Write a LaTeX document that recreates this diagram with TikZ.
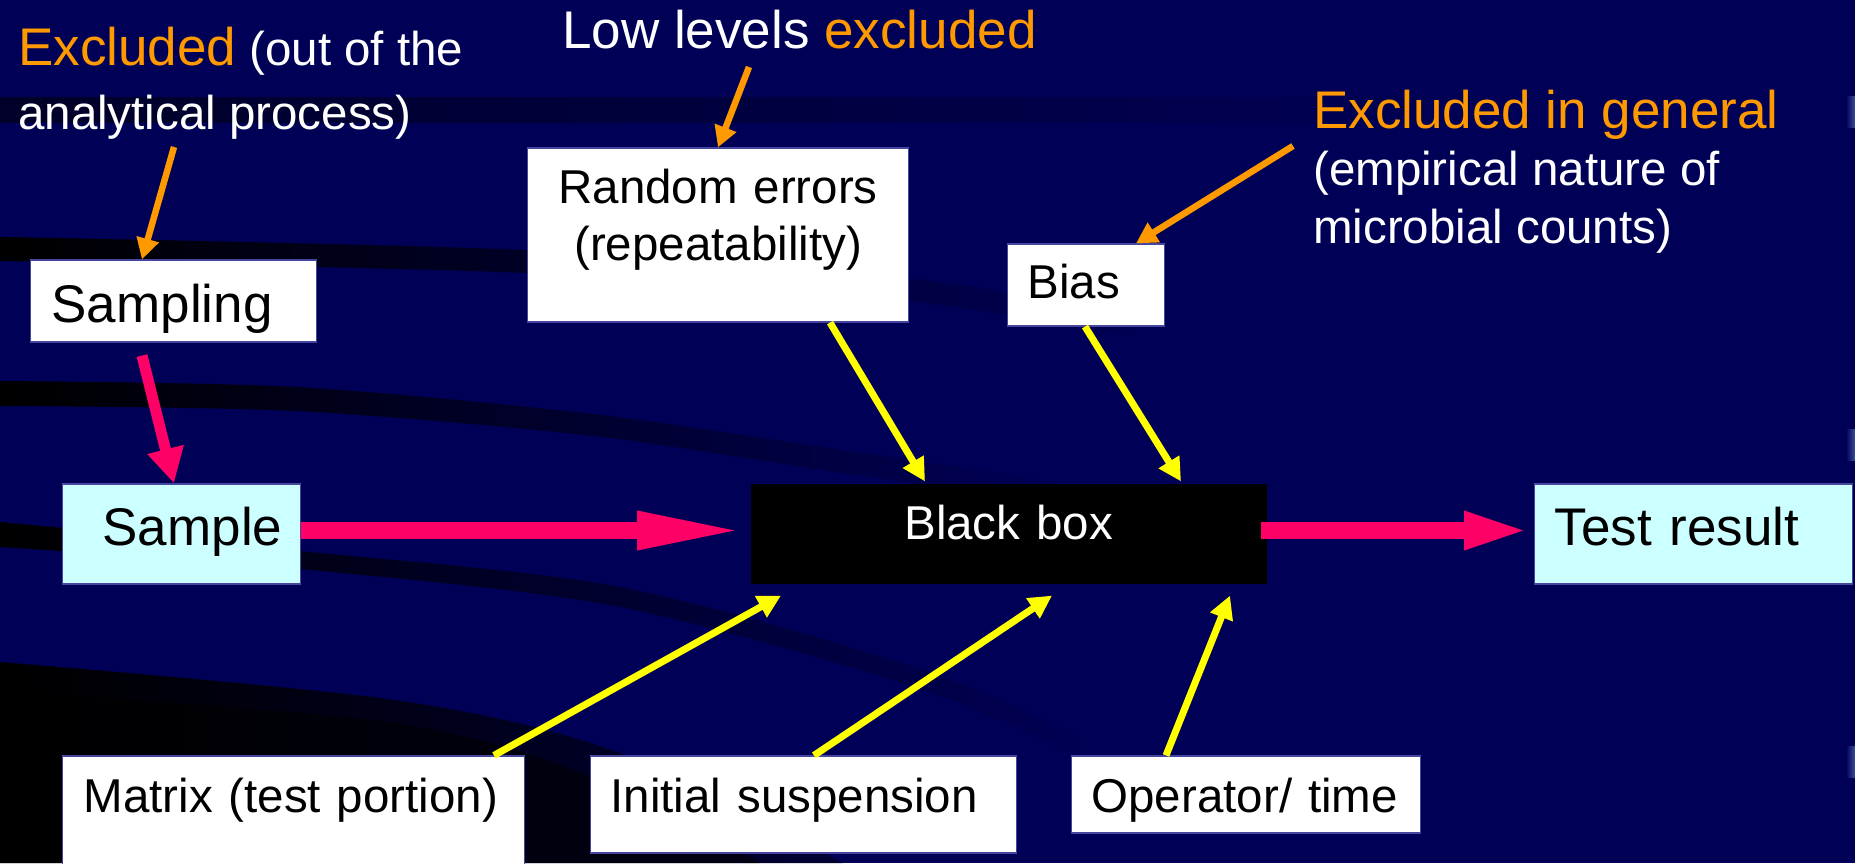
\documentclass[tikz,border=0pt]{standalone}
\usepackage{fontspec}
\setmainfont{Liberation Sans}
\usetikzlibrary{arrows.meta,calc}
\definecolor{bg}{RGB}{0,0,86}
\definecolor{stripeA}{RGB}{0,0,40}
\definecolor{stripeE}{RGB}{0,0,52}
\definecolor{orng}{RGB}{255,153,0}
\definecolor{pinkc}{RGB}{255,0,102}
\definecolor{ylw}{RGB}{255,255,0}
\definecolor{lcyan}{RGB}{204,255,255}
\definecolor{bord}{RGB}{70,70,160}
\definecolor{tabc}{RGB}{60,80,150}
\newcommand{\fbig}{\fontsize{53pt}{60pt}\selectfont}
\newcommand{\fsmall}{\fontsize{47.5pt}{57pt}\selectfont}
\begin{document}
\begin{tikzpicture}[x=1pt,y=-1pt,
  boxbase/.style={line width=1.2pt, inner xsep=0pt, inner ysep=0pt, anchor=base west, text=black},
  wbox/.style={boxbase, fill=white, draw=bord, align=left},
  cbox/.style={boxbase, fill=lcyan, draw=bord, align=left},
  lbl/.style={inner sep=0pt, anchor=base west, text=white},
  oarrow/.style={draw=orng, line width=6.5pt, -{Triangle[length=21pt,width=22pt]}},
  yarrow/.style={draw=ylw, line width=7pt, -{Triangle[length=23pt,width=23pt]}},
  parrow/.style={draw=pinkc, line width=11pt, -{Triangle[length=35pt,width=35pt]}},
  hparrow/.style={draw=pinkc, line width=17.6pt},
]
% background
\fill[bg] (0,0) rectangle (1855,863);
\useasboundingbox (0,0) rectangle (1855,863);
% stripes
\shade[left color=stripeA, right color=bg] (0,97) rectangle (1500,122);
\shade[left color=black, right color=bg]
  plot[smooth] coordinates {(0,237) (526,250) (907,278) (1165,320)}
  -- plot[smooth] coordinates {(1165,342) (907,301) (526,273) (0,261)} -- cycle;
\shade[left color=black, right color=bg]
  plot[smooth] coordinates {(0,381) (296,387) (593,414) (843,450) (1066,483)}
  -- plot[smooth] coordinates {(1066,503) (843,473) (593,436) (296,411) (0,406)} -- cycle;
\shade[left color=black, right color=bg]
  plot[smooth] coordinates {(0,522) (300,551) (620,587) (932,673) (1111,753)}
  -- plot[smooth] coordinates {(1111,773) (932,693) (620,607) (300,569) (0,547)} -- cycle;
\shade[left color=black, right color=stripeE]
  plot[smooth] coordinates {(0,662) (395,700) (620,753) (843,863)}
  -- (0,863) -- cycle;
\fill[black, opacity=0.55]
  plot[smooth] coordinates {(0,690) (395,723) (593,777) (760,863)}
  -- (0,863) -- cycle;
\shade[left color=bg, right color=tabc] (1846,96) rectangle (1855,127);
\shade[left color=bg, right color=tabc] (1846,429) rectangle (1855,460);
\shade[left color=bg, right color=tabc] (1846,746) rectangle (1855,777);

% labels
\node[lbl, font=\fsmall] (lA1) at (18,65) {{\fbig\color{orng}Excluded} (out of the};
\node[lbl, font=\fsmall] (lA2) at (18,129) {analytical process)};
\node[lbl, font=\fbig] (lB) at (562,48) {Low levels \textcolor{orng}{excluded}};
\node[lbl, font=\fbig, text=orng] (lC1) at (1313,128) {Excluded in general};
\node[lbl, font=\fsmall] (lC2) at (1313,185) {(empirical nature of};
\node[lbl, font=\fsmall] (lC3) at (1313,243) {microbial counts)};

% boxes
\node[wbox, font=\fbig, text width=286pt, text height=62pt, text depth=20pt] (sampling) at (30,322) {\hspace*{21pt}Sampling};
\node[cbox, font=\fbig, text width=238pt, text height=61pt, text depth=39pt] (sample) at (62,545) {\hspace*{40pt}Sample};
\node[boxbase, fill=black, text=white, align=center, font=\fsmall, text width=516pt, text height=55pt, text depth=45pt] (bb) at (750,539) {Black box};
\node[cbox, font=\fbig, text width=318pt, text height=61pt, text depth=39pt] (tr) at (1534,545) {\hspace*{20pt}Test result};
\node[wbox, align=center, font=\fsmall, text width=381pt, text height=55pt, text depth=119pt] (re) at (527,203) {Random errors\\(repeatability)};
\node[wbox, font=\fsmall, text width=157pt, text height=54pt, text depth=28pt] (bias) at (1007,298) {\hspace*{20pt}Bias};
\node[wbox, font=\fsmall, text width=462pt, text height=56pt, text depth=70pt] (mat) at (62,812) {\hspace*{21pt}Matrix (test portion)};
\node[wbox, font=\fsmall, text width=426pt, text height=56pt, text depth=41pt] (ini) at (590,812) {\hspace*{20pt}Initial suspension};
\node[wbox, font=\fsmall, text width=349pt, text height=56pt, text depth=21pt] (op) at (1071,812) {\hspace*{20pt}Operator/ time};

% connector anchors
\coordinate (oA) at (174,147);
\coordinate (oB) at (749,67);
\coordinate (oC) at (1293,146);
\coordinate (mid) at (0,530.5);

% orange arrows
\draw[oarrow] (oA) -- ($(sampling.north west)+(112,0)$);
\draw[oarrow] (oB) -- ($(re.north west)+(191,0)$);
\draw[oarrow] (oC) -- ($(bias.north west)+(129,0)$);

% pink arrows
\draw[parrow] ($(sampling.south west)+(112,13)$) -- ($(sample.north west)+(112,0)$);
\draw[hparrow, -{Triangle[length=113pt,width=34pt]}] (sample.east |- mid) -- (bb.west |- mid);
\draw[hparrow, -{Triangle[length=70pt,width=33pt]}] ($(bb.east |- mid)+(-6,0)$) -- (tr.west |- mid);

% yellow arrows
\draw[yarrow] ($(re.south west)+(303,0)$) -- ($(bb.north west)+(175,-2)$);
\draw[yarrow] ($(bias.south west)+(78,0)$) -- ($(bb.north west)+(431,-2)$);
\draw[yarrow] ($(mat.north west)+(432,0)$) -- ($(bb.south west)+(31,11)$);
\draw[yarrow] ($(ini.north west)+(224,0)$) -- ($(bb.south west)+(302,11)$);
\draw[yarrow] ($(op.north west)+(95,0)$) -- ($(bb.south west)+(480,11)$);
\end{tikzpicture}
\end{document}
